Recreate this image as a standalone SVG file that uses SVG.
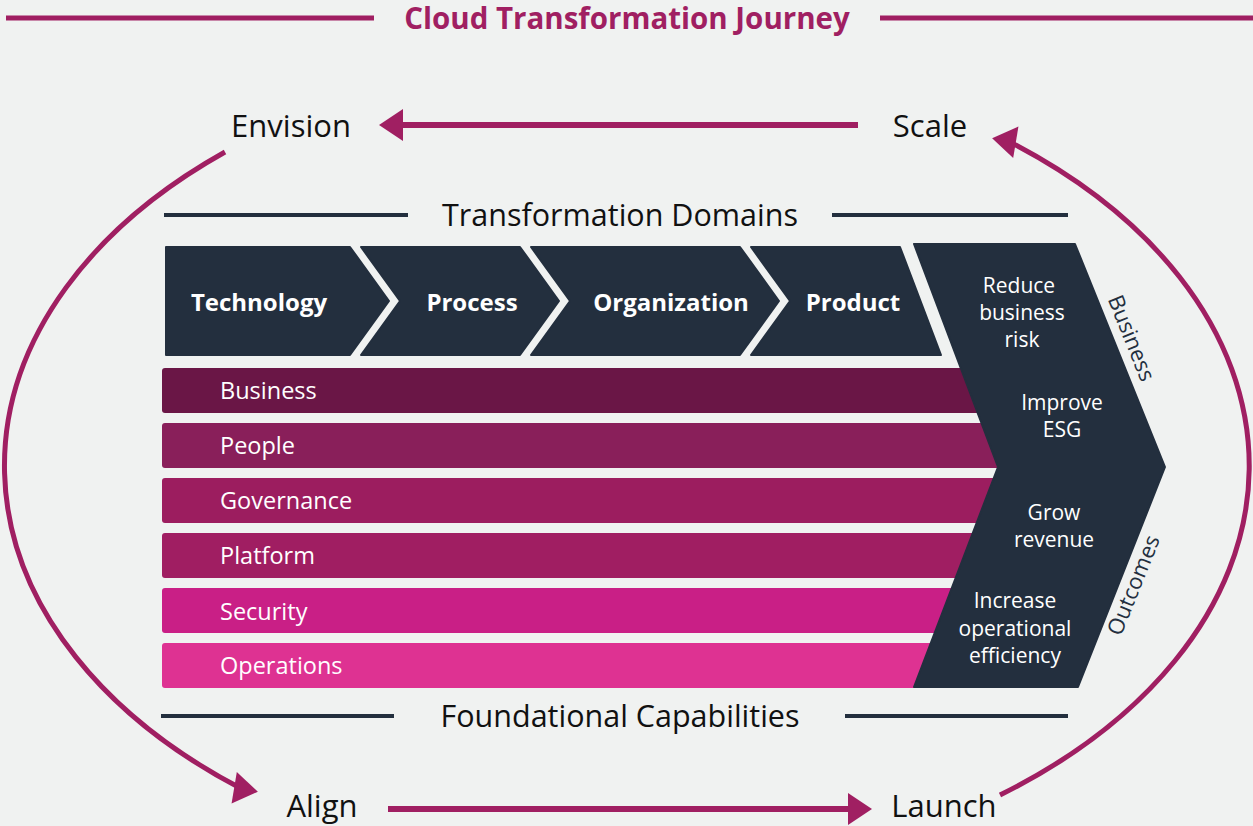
<svg xmlns="http://www.w3.org/2000/svg" width="1253" height="826" viewBox="0 0 1253 826">
<style>
text{font-family:"Open Sans","Liberation Sans",sans-serif;}
.title{font-size:29.5px;font-weight:700;fill:#a01f62;text-anchor:middle;}
.stage{font-size:31px;fill:#111;text-anchor:middle;}
.sect{font-size:30.5px;fill:#111;text-anchor:middle;}
.chev{fill:#232f3e;stroke:#232f3e;stroke-width:2;stroke-linejoin:round;}
.chevtxt{font-size:24px;font-weight:700;fill:#fff;text-anchor:middle;}
.bar{stroke-width:0;}
.bartxt{font-size:23.5px;fill:#fff;}
.outtxt{font-size:21px;fill:#fff;text-anchor:middle;}
.side{font-size:22px;fill:#232f3e;text-anchor:middle;}
.mline{stroke:#a01f62;stroke-width:5;fill:none;}
.dline{stroke:#232f3e;stroke-width:4;fill:none;}
.arc{stroke:#a01f62;stroke-width:5;fill:none;marker-end:url(#ah);}
.arr{stroke:#a01f62;stroke-width:6;fill:none;marker-end:url(#ah);}
</style>
<defs>
<marker id="ah" markerUnits="userSpaceOnUse" markerWidth="24" markerHeight="32" refX="14" refY="16" orient="auto" overflow="visible">
<path d="M0,0 L24,16 L0,32 z" fill="#a01f62"/>
</marker>
</defs>
<rect x="0" y="0" width="1253" height="826" fill="#f0f2f1"/>

<g id="title">
<line class="mline" x1="6" y1="18" x2="374" y2="18"/>
<line class="mline" x1="880" y1="18" x2="1253" y2="18"/>
<text class="title" x="627" y="29">Cloud Transformation Journey</text>
</g>

<g id="envision"><text class="stage" x="291" y="137">Envision</text></g>
<g id="scale"><text class="stage" x="930" y="137">Scale</text></g>
<g id="align"><text class="stage" x="322" y="817">Align</text></g>
<g id="launch"><text class="stage" x="944" y="817">Launch</text></g>

<g id="domains-heading">
<line class="dline" x1="164" y1="215" x2="408" y2="215"/>
<line class="dline" x1="832" y1="215" x2="1068" y2="215"/>
<text class="sect" x="620" y="226">Transformation Domains</text>
</g>

<g id="technology">
<polygon class="chev" points="166,247 350,247 389,301 350,355 166,355"/>
<text class="chevtxt" x="259" y="311">Technology</text>
</g>
<g id="process">
<polygon class="chev" points="361,247 520,247 559,301 520,355 361,355 400,301"/>
<text class="chevtxt" x="472" y="311">Process</text>
</g>
<g id="organization">
<polygon class="chev" points="531,247 740,247 779,301 740,355 531,355 570,301"/>
<text class="chevtxt" x="671" y="311">Organization</text>
</g>
<g id="product">
<polygon class="chev" points="751,247 900,247 941,355 751,355 790,301"/>
<text class="chevtxt" x="853" y="311">Product</text>
</g>

<g id="business-bar">
<rect class="bar" x="162" y="368" width="840" height="45" rx="3" fill="#6a1646"/>
<text class="bartxt" x="220" y="399">Business</text>
</g>
<g id="people-bar">
<rect class="bar" x="162" y="423" width="840" height="45" rx="3" fill="#891f5a"/>
<text class="bartxt" x="220" y="454">People</text>
</g>
<g id="governance-bar">
<rect class="bar" x="162" y="478" width="840" height="45" rx="3" fill="#9c1d5f"/>
<text class="bartxt" x="220" y="509">Governance</text>
</g>
<g id="platform-bar">
<rect class="bar" x="162" y="533" width="840" height="45" rx="3" fill="#a01e62"/>
<text class="bartxt" x="220" y="564">Platform</text>
</g>
<g id="security-bar">
<rect class="bar" x="162" y="588" width="840" height="45" rx="3" fill="#c91f86"/>
<text class="bartxt" x="220" y="620">Security</text>
</g>
<g id="operations-bar">
<rect class="bar" x="162" y="643" width="840" height="45" rx="3" fill="#de3292"/>
<text class="bartxt" x="220" y="674">Operations</text>
</g>

<g id="outcomes">
<polygon class="chev" points="914,244 1075,244 1165,467 1078,687 914,687 998,467"/>
<text class="outtxt"><tspan x="1019" y="293">Reduce</tspan><tspan x="1022" y="320">business</tspan><tspan x="1022" y="347">risk</tspan></text>
<text class="outtxt"><tspan x="1062" y="410">Improve</tspan><tspan x="1062" y="437">ESG</tspan></text>
<text class="outtxt"><tspan x="1054" y="520">Grow</tspan><tspan x="1054" y="547">revenue</tspan></text>
<text class="outtxt"><tspan x="1015" y="608">Increase</tspan><tspan x="1015" y="636">operational</tspan><tspan x="1015" y="663">efficiency</tspan></text>
<text class="side" transform="translate(1124.5,341) rotate(68)" x="0" y="0">Business</text>
<text class="side" transform="translate(1140.5,588) rotate(-68)" x="0" y="0">Outcomes</text>
</g>

<g id="capabilities-heading">
<line class="dline" x1="161" y1="716" x2="394" y2="716"/>
<line class="dline" x1="845" y1="716" x2="1068" y2="716"/>
<text class="sect" x="620" y="727">Foundational Capabilities</text>
</g>

<g id="connectors">
<line class="arr" x1="858" y1="125" x2="389" y2="125"/>
<line class="arr" x1="388" y1="809" x2="862" y2="809"/>
<path class="arc" d="M225,152 A622,411 0 0 0 242,789 L248,790"/>
<path class="arc" d="M1000,795 A622,411 0 0 0 1008,141 L1002,140"/>
</g>
</svg>
